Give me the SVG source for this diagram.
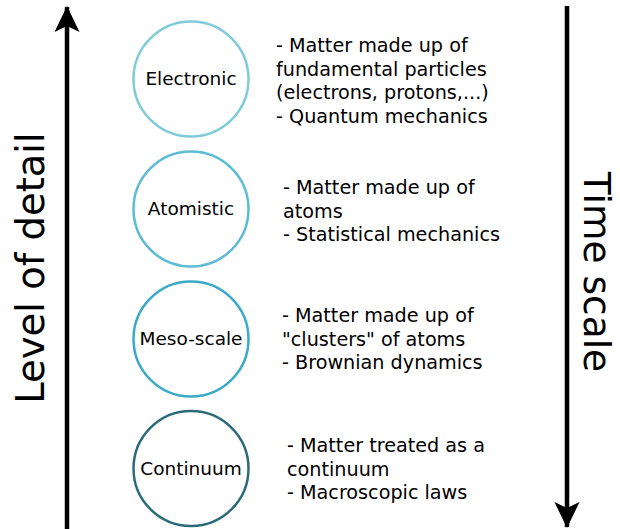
<svg xmlns="http://www.w3.org/2000/svg" width="620" height="529" viewBox="0 0 620 529">
<style>
text{font-family:"DejaVu Sans",sans-serif;fill:#000}
.lbl{font-size:18.5px;text-anchor:middle}
.desc{font-size:19.2px}
.axis{font-size:38.5px;text-anchor:middle}
.node{fill:#fff;stroke-width:2.5}
.ax{stroke:#000;stroke-width:4.5;fill:none}
</style>
<defs>
<marker id="ah" markerUnits="userSpaceOnUse" markerWidth="26" markerHeight="34" refX="25" refY="12.5" orient="auto" viewBox="0 0 26 25">
<path d="M0,0 L26,12.5 L0,25 L6,12.5 Z" fill="#000"/>
</marker>
</defs>
<rect width="620" height="529" fill="#fff"/>
<g id="connectors">
<line class="ax" x1="67" y1="529" x2="67" y2="7" marker-end="url(#ah)"/>
<line class="ax" x1="567" y1="6" x2="567" y2="527" marker-end="url(#ah)"/>
</g>
<g id="axis-labels">
<text class="axis" transform="translate(44,268) rotate(-90)">Level of detail</text>
<text class="axis" style="font-size:37.5px" transform="translate(584,272) rotate(90)">Time scale</text>
</g>
<g id="electronic">
<circle class="node" cx="191" cy="79" r="57.5" stroke="#7ecbd9"/>
<text class="lbl" x="191" y="85">Electronic</text>
<text class="desc" x="276" y="52">- Matter made up of</text>
<text class="desc" x="276" y="75.5">fundamental particles</text>
<text class="desc" x="276" y="99">(electrons, protons,...)</text>
<text class="desc" x="276" y="122.5">- Quantum mechanics</text>
</g>
<g id="atomistic">
<circle class="node" cx="191" cy="209" r="57.5" stroke="#5bbcd3"/>
<text class="lbl" x="191" y="215">Atomistic</text>
<text class="desc" x="283" y="194">- Matter made up of</text>
<text class="desc" x="283" y="217.5">atoms</text>
<text class="desc" x="283" y="241">- Statistical mechanics</text>
</g>
<g id="meso-scale">
<circle class="node" cx="191" cy="339" r="57.5" stroke="#3aaac8"/>
<text class="lbl" x="191" y="345">Meso-scale</text>
<text class="desc" x="282" y="322">- Matter made up of</text>
<text class="desc" x="282" y="345.5">"clusters" of atoms</text>
<text class="desc" x="282" y="369">- Brownian dynamics</text>
</g>
<g id="continuum">
<circle class="node" cx="191" cy="468.5" r="57.5" stroke="#2a6b7b"/>
<text class="lbl" x="191" y="474.5">Continuum</text>
<text class="desc" x="287" y="452">- Matter treated as a</text>
<text class="desc" x="287" y="475.5">continuum</text>
<text class="desc" x="287" y="499">- Macroscopic laws</text>
</g>
</svg>
